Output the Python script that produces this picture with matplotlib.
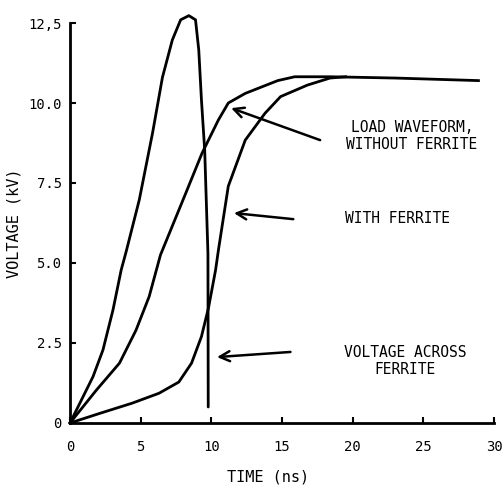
import matplotlib
matplotlib.use("Agg")
import matplotlib.pyplot as plt

# Voltage across ferrite (sharp peak)
t_ferrite = [0, 1.63, 2.33, 3.04, 3.62, 3.97, 4.9, 5.84, 6.54, 7.24, 7.83, 8.41, 8.88, 9.11, 9.3, 9.53, 9.76, 9.78]
v_ferrite = [0, 1.45, 2.28, 3.53, 4.78, 5.35, 6.97, 9.06, 10.8, 11.97, 12.6, 12.73, 12.6, 11.66, 10.1, 8.53, 5.3, 0.5]

# Load waveform without ferrite
t_noferr = [0, 1.87, 3.5, 4.67, 5.6, 6.4, 8.18, 9.34, 10.5, 11.2, 12.4, 14.7, 15.9, 18.4, 23.0, 28.9]
v_noferr = [0, 1.03, 1.87, 2.9, 3.95, 5.25, 7.17, 8.43, 9.47, 10.0, 10.3, 10.7, 10.82, 10.82, 10.78, 10.7]

# Load waveform with ferrite
t_withferr = [0, 2.1, 4.4, 6.3, 7.7, 8.6, 9.3, 9.8, 10.3, 10.5, 11.2, 12.4, 13.8, 14.9, 16.8, 18.4, 19.5]
v_withferr = [0, 0.3, 0.62, 0.93, 1.28, 1.87, 2.7, 3.6, 4.78, 5.4, 7.4, 8.84, 9.68, 10.2, 10.56, 10.78, 10.82]

x_ticks = [0, 5, 10, 15, 20, 25, 30]
x_ticklabels = ["0", "5", "10", "15", "20", "25", "30"]
y_ticks = [0, 2.5, 5.0, 7.5, 10.0, 12.5]
y_ticklabels = ["0", "2.5", "5.0", "7.5", "10.0", "12,5"]

labels = ["LOAD WAVEFORM,\nWITHOUT FERRITE", "WITH FERRITE", "VOLTAGE ACROSS\nFERRITE"]
label_pos = [(24.2, 8.97), (23.2, 6.4), (23.7, 1.94)]
arrow_tail = [(17.7, 8.84), (15.8, 6.37), (15.6, 2.22)]
arrow_head = [(11.4, 9.84), (11.6, 6.56), (10.4, 2.06)]

font = "DejaVu Sans Mono"

fig = plt.figure(figsize=(5.04, 4.87), dpi=100)
ax = fig.add_axes([70/504, 64/487, 424/504, 400/487])

lw = 2.0
ax.plot(t_ferrite, v_ferrite, color="black", lw=lw, clip_on=False, solid_capstyle="round", solid_joinstyle="round")
ax.plot(t_noferr, v_noferr, color="black", lw=lw, clip_on=False, solid_joinstyle="round")
ax.plot(t_withferr, v_withferr, color="black", lw=lw, clip_on=False, solid_joinstyle="round")

for txt, (x, y) in zip(labels, label_pos):
    ax.text(x, y, txt, ha="center", va="center", fontsize=10.5, family=font, linespacing=1.1)

for (tx, ty), (hx, hy) in zip(arrow_tail, arrow_head):
    ax.annotate("", xy=(hx, hy), xytext=(tx, ty),
                arrowprops=dict(arrowstyle="->", lw=1.8, color="black", mutation_scale=18,
                                shrinkA=0, shrinkB=0))

ax.set_xlim(0, 30)
ax.set_ylim(0, 12.5)
ax.spines["top"].set_visible(False)
ax.spines["right"].set_visible(False)
ax.spines["left"].set_linewidth(2)
ax.spines["bottom"].set_linewidth(2)
ax.set_xticks(x_ticks)
ax.set_xticklabels(x_ticklabels, family=font, fontsize=10)
ax.set_yticks(y_ticks)
ax.set_yticklabels(y_ticklabels, family=font, fontsize=10)
ax.tick_params(direction="in", length=4, width=1.5)
ax.tick_params(axis="x", pad=12)
ax.tick_params(axis="y", pad=6)
ax.set_xlabel("TIME (ns)", family=font, fontsize=11)
ax.set_ylabel("VOLTAGE (kV)", family=font, fontsize=11)
ax.xaxis.set_label_coords(14.0/30, -46/400)
ax.yaxis.set_label_coords(-48/424, 0.5)

fig.savefig("out.png", dpi=100)
